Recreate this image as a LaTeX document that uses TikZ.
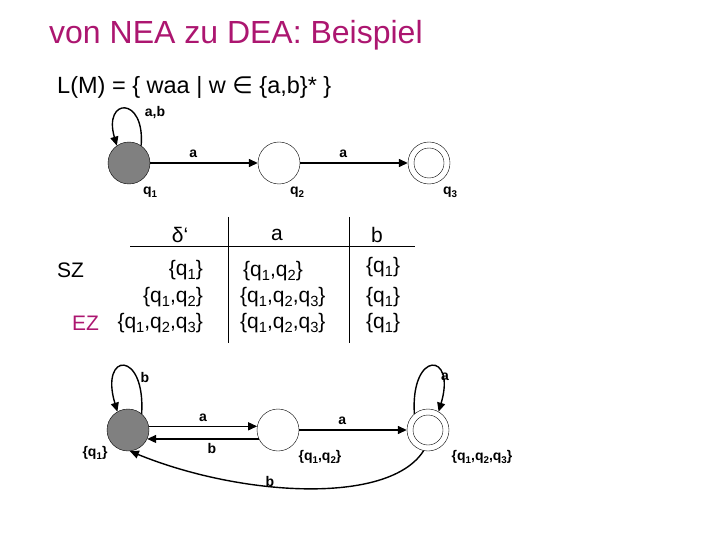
\documentclass[tikz,border=0pt]{standalone}
\usepackage{fontspec}
\setmainfont{Liberation Sans}
\newfontfamily\symfont{DejaVu Sans}
\usepackage{tikz}
\usetikzlibrary{arrows.meta,positioning}
\definecolor{vlMagenta}{RGB}{172,22,112}
\definecolor{vlGray}{RGB}{128,128,128}
\makeatletter
\newcommand{\qq}[1]{q\raisebox{-0.2em}{\@tempdima=\f@size pt\fontsize{0.7\@tempdima}{0pt}\selectfont #1}}
\makeatother

\begin{document}
\begin{tikzpicture}[
    x=1pt, y=-1pt,
    every node/.style={font=\fontsize{14}{16}\selectfont\bfseries, inner sep=1pt},
    tabtext/.style={font=\fontsize{21}{24}\selectfont, inner sep=0pt},
    startst/.style={circle, draw=black, fill=vlGray, minimum size=42pt, inner sep=0pt},
    plainst/.style={circle, draw=black, fill=white, minimum size=42pt, inner sep=0pt},
    acceptin/.style={circle, draw=black, minimum size=30pt, inner sep=0pt},
    trans/.style={draw=black, line width=1.4pt, -{Triangle[length=9pt,width=8pt]}}
]
\useasboundingbox (0,0) rectangle (720,540);

\node[anchor=west, font=\fontsize{32}{36}\selectfont, text=vlMagenta] (title) at (48,35) {von NEA zu DEA: Beispiel};
\node[anchor=west, font=\fontsize{23.5}{26}\selectfont, inner sep=0pt] (lang) at (57,87) {L(M) = \{ waa | w {\symfont ∈} \{a,b\}* \}};

% NEA
\node[startst] (q1) at (129,163) {};
\node[plainst] (q2) at (279,163) {};
\node[plainst] (q3) at (429,163) {};
\node[acceptin] (q3i) at (q3) {};
\node (lq1) at (150,192) {\qq1};
\node (lq2) at (297,192) {\qq2};
\node (lq3) at (450,192) {\qq3};
\draw[trans] (q1.55) .. controls +(4,-50) and +(-14,-48) .. (q1.125);
\node (lab) at (155,113) {a,b};
\draw[trans] (q1) -- node[pos=0.4, above=4pt] {a} (q2);
\draw[trans] (q2) -- node[pos=0.4, above=4pt] {a} (q3);

% Tabelle
\draw[line width=0.8pt] (130,246) -- (415,246);
\draw[line width=0.8pt] (228,217) -- (228,343);
\draw[line width=0.8pt] (349,217) -- (349,343);
\node[tabtext] (hd) at (180,235) {δ‘};
\node[tabtext] (ha) at (277,235) {a};
\node[tabtext] (hb) at (377,235) {b};
\node[tabtext, anchor=west] (sz) at (57,270) {SZ};
\node[tabtext, anchor=west, text=vlMagenta] (ez) at (72,323) {EZ};
\node[tabtext, anchor=east] (r1) at (203,270) {\{\qq1\}};
\node[tabtext, anchor=east] (r2) at (203,297) {\{\qq1,\qq2\}};
\node[tabtext, anchor=east] (r3) at (203,323) {\{\qq1,\qq2,\qq3\}};
\node[tabtext, anchor=west] (a1) at (243,271) {\{\qq1,\qq2\}};
\node[tabtext, anchor=west] (a2) at (240,297) {\{\qq1,\qq2,\qq3\}};
\node[tabtext, anchor=west] (a3) at (240,323) {\{\qq1,\qq2,\qq3\}};
\foreach \y/\n in {267/1,297/2,323/3}
  \node[tabtext, anchor=west] (b\n) at (366,\y) {\{\qq1\}};

% DEA
\node[startst] (d1) at (128,430) {};
\node[plainst] (d2) at (278,430) {};
\node[plainst] (d3) at (428,430) {};
\node[acceptin] (d3i) at (d3) {};
\node (ld1) at (95,453) {\{\qq1\}};
\node (ld2) at (320,457) {\{\qq1,\qq2\}};
\node (ld3) at (482,457) {\{\qq1,\qq2,\qq3\}};
\draw[trans] (d1.50) .. controls +(4,-64) and +(-18,-60) .. (d1.120);
\node (lb1) at (145,377) {b};
\draw[trans] (d3.130) .. controls +(-4,-64) and +(18,-60) .. (d3.60);
\node (la3) at (445,377) {a};
\draw[trans] (d1.10) -- node[pos=0.5, above=3pt] {a} (d2.170);
\draw[trans] (d2.205) -- node[pos=0.42, below=3pt] {b} (d1.335);
\draw[trans] (d2) -- node[pos=0.4, above=4pt] {a} (d3);
\draw[trans] (d3.258) .. controls +(-35,55) and +(110,45) .. (d1.275);
\node (lb3) at (270,481) {b};
\end{tikzpicture}
\end{document}
